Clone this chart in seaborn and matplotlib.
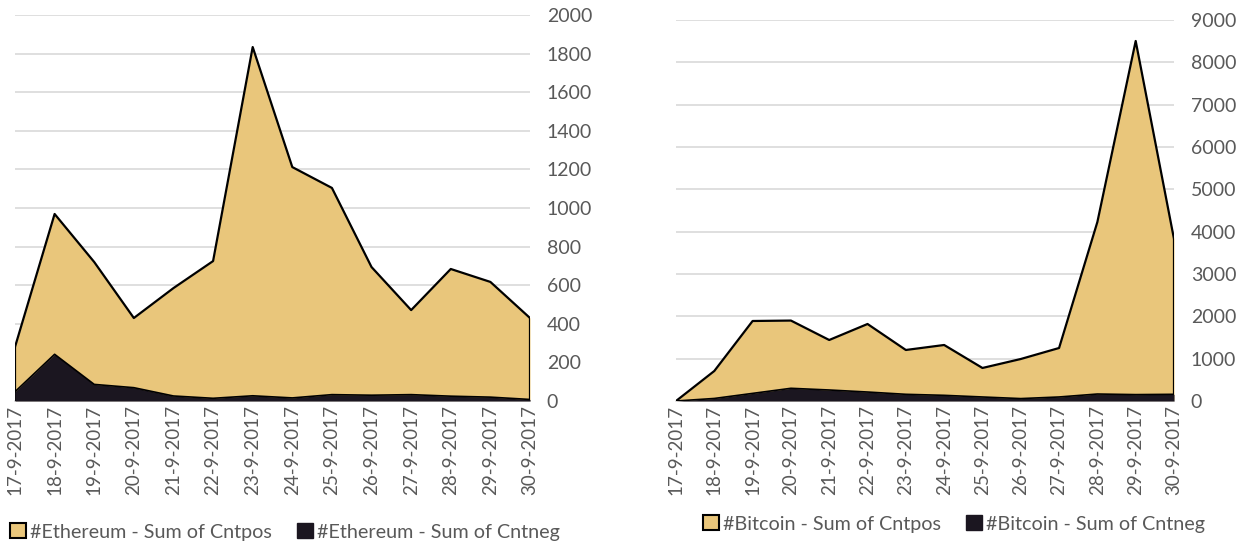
import matplotlib
matplotlib.use("Agg")
import matplotlib.pyplot as plt
from matplotlib.patches import Patch
import seaborn as sns
import pandas as pd

# data
dates = ["17-9-2017", "18-9-2017", "19-9-2017", "20-9-2017", "21-9-2017",
         "22-9-2017", "23-9-2017", "24-9-2017", "25-9-2017", "26-9-2017",
         "27-9-2017", "28-9-2017", "29-9-2017", "30-9-2017"]
eth_pos = [280, 969, 720, 430, 585, 725, 1834, 1212, 1104, 694, 471, 684, 617, 430]
eth_neg = [48, 242, 86, 69, 26, 14, 27, 16, 33, 30, 33, 25, 20, 8]
btc_pos = [0, 709, 1890, 1900, 1441, 1819, 1205, 1323, 780, 992, 1252, 4229, 8504, 3827]
btc_neg = [0, 60, 180, 300, 260, 212, 158, 134, 95, 57, 95, 165, 151, 158]

TAN = "#E9C67B"
DARK = "#1B1620"
GRAY = "#595959"

sns.set_style("white")
plt.rcParams["font.family"] = ["Lato", "DejaVu Sans"]

fig = plt.figure(figsize=(12.55, 5.47), dpi=100)
ax1 = fig.add_axes([15 / 1255, 1 - 401 / 547, 515 / 1255, 386 / 547])
ax2 = fig.add_axes([676 / 1255, 1 - 401 / 547, 498 / 1255, 381 / 547])


def draw(ax, pos, neg, ymax, step, name, legend_xy):
    df = pd.DataFrame({"x": range(len(dates)), "pos": pos, "neg": neg})
    ax.fill_between(df["x"], 0, df["pos"], color=TAN, zorder=2, lw=0)
    sns.lineplot(data=df, x="x", y="pos", color="black", lw=1.6, ax=ax, zorder=3)
    ax.plot([df["x"].iloc[0]] * 2, [0, pos[0]], color="black", lw=1.6, zorder=3)
    ax.plot([df["x"].iloc[-1]] * 2, [0, pos[-1]], color="black", lw=1.6, zorder=3)
    ax.fill_between(df["x"], 0, df["neg"], color=DARK, zorder=4, lw=0)
    sns.lineplot(data=df, x="x", y="neg", color="black", lw=1.2, ax=ax, zorder=5)

    ax.set_xlim(0, len(dates) - 1)
    ax.set_ylim(0, ymax)
    ax.set_yticks(range(0, ymax + 1, step))
    ax.yaxis.tick_right()
    ax.tick_params(axis="y", length=0, pad=12, labelsize=14, labelcolor=GRAY)
    ax.set_xticks(range(len(dates)))
    ax.set_xticklabels(dates, rotation=90, fontsize=13.5, color=GRAY)
    ax.tick_params(axis="x", length=0, pad=3)
    ax.set_xlabel("")
    ax.set_ylabel("")
    ax.grid(axis="y", color="#D9D9D9", lw=1.2, zorder=0)
    ax.set_axisbelow(True)
    for s in ["top", "left", "right"]:
        ax.spines[s].set_visible(False)
    ax.spines["bottom"].set_color("#D9D9D9")
    ax.spines["bottom"].set_linewidth(1.2)

    handles = [Patch(facecolor=TAN, edgecolor="black", lw=1.5),
               Patch(facecolor=DARK, edgecolor=DARK)]
    labels = [name + " - Sum of Cntpos", name + " - Sum of Cntneg"]
    fig.legend(handles, labels, loc="center left", bbox_to_anchor=legend_xy,
               ncol=2, frameon=False, fontsize=14.2, handlelength=0.8,
               handleheight=0.8, handletextpad=0.2, columnspacing=1.3,
               labelcolor=GRAY, borderaxespad=0)


draw(ax1, eth_pos, eth_neg, 2000, 200, "#Ethereum", (2 / 1255, 1 - 532 / 547))
draw(ax2, btc_pos, btc_neg, 9000, 1000, "#Bitcoin", (695 / 1255, 1 - 524 / 547))

fig.savefig("out.png", dpi=100)
